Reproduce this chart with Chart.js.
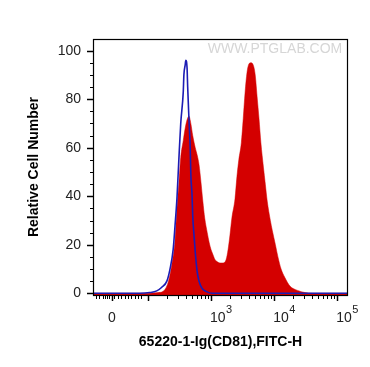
<!DOCTYPE html>
<html>
<head>
<meta charset="utf-8">
<script src="https://cdn.jsdelivr.net/npm/chart.js@4.4.0/dist/chart.umd.min.js"></script>
<style>
  html, body { margin: 0; padding: 0; background: #fff; }
  #wrap { width: 370px; height: 367px; }
</style>
</head>
<body>
<div id="wrap"><canvas id="c" width="370" height="367"></canvas></div>
<script>
// x values are display positions in decades (3 = 10^3, 4 = 10^4 ...)
const redX = [1.13, 2.00, 2.16, 2.24, 2.32, 2.38, 2.43, 2.46, 2.49, 2.52, 2.56, 2.59, 2.62, 2.65, 2.68, 2.71, 2.75, 2.78, 2.81, 2.84, 2.87, 2.90, 2.94, 2.97, 3.00, 3.03, 3.06, 3.10, 3.14, 3.19, 3.24, 3.27, 3.30, 3.33, 3.38, 3.41, 3.44, 3.48, 3.51, 3.54, 3.57, 3.60, 3.63, 3.67, 3.70, 3.73, 3.76, 3.79, 3.83, 3.86, 3.89, 3.94, 3.97, 4.02, 4.06, 4.11, 4.17, 4.25, 4.37, 4.49, 4.60, 5.17];
const redY = [0, 0, 0.3, 0.8, 4.5, 12, 22, 35, 45, 56, 63, 68, 71.5, 73, 70, 65, 60, 57, 53, 46, 38, 31, 25, 21, 18, 16, 14, 13, 12.5, 12.5, 14, 18, 24, 31, 39, 48, 55, 62, 72, 83, 91, 94.5, 95, 94, 90, 81, 72, 62, 52, 45, 38, 30, 26, 20, 15, 10, 6.5, 3, 1.2, 0.3, 0, 0];

const blueX = [1.13, 1.87, 2.03, 2.14, 2.22, 2.30, 2.35, 2.40, 2.43, 2.46, 2.49, 2.52, 2.56, 2.57, 2.59, 2.60, 2.62, 2.63, 2.65, 2.67, 2.68, 2.70, 2.71, 2.73, 2.75, 2.78, 2.81, 2.86, 2.92, 3.02, 5.17];
const blueY = [0, 0, 0.3, 1, 2.5, 5, 10, 18, 28, 39, 55, 70, 83, 90, 94, 96, 93, 85, 72, 60, 49, 40, 32, 24, 17, 9, 5, 2, 0.8, 0, 0];

const yTicks = [0, 20, 40, 60, 80, 100];
const yMinorTicks = [5, 10, 15, 25, 30, 35, 45, 50, 55, 65, 70, 75, 85, 90, 95];
const xMajorTicks = [1.43, 2, 3, 4, 5];
const xTickPos = [1.43, 3, 4, 5];
const xTickBase = ['0', '10', '10', '10'];
const xTickExp = ['', '3', '4', '5'];
const xLinearMinor = [1.175, 1.222, 1.286, 1.317, 1.349, 1.381, 1.46, 1.524, 1.571, 1.635, 1.683, 1.73, 1.794, 1.841, 1.889];
const xTitle = '65220-1-Ig(CD81),FITC-H';
const yTitle = 'Relative Cell Number';
const watermark = 'WWW.PTGLAB.COM';

const xLogMinor = [];
[2, 3, 4].forEach(d => { for (let k = 2; k <= 9; k++) xLogMinor.push(d + Math.log10(k)); });

const FONT = "'Liberation Sans', Arial, sans-serif";

const decor = {
  id: 'decor',
  afterDatasetsDraw(chart) {
    const ctx = chart.ctx;
    const a = chart.chartArea;
    const xs = chart.scales.x, ys = chart.scales.y;
    ctx.save();
    // watermark
    ctx.fillStyle = '#d6d6d6';
    ctx.font = '14px ' + FONT;
    ctx.textAlign = 'center';
    ctx.textBaseline = 'middle';
    ctx.fillText(watermark, 275, 49);
    // frame
    ctx.strokeStyle = '#000';
    ctx.lineWidth = 1.2;
    ctx.strokeRect(a.left + 0.5, a.top + 0.5, a.right - a.left - 1, a.bottom - a.top);
    // y ticks
    ctx.lineWidth = 1.5;
    yTicks.forEach(v => {
      const y = Math.round(ys.getPixelForValue(v)) + 0.5;
      ctx.beginPath(); ctx.moveTo(a.left - 6, y); ctx.lineTo(a.left, y); ctx.stroke();
    });
    ctx.lineWidth = 1;
    yMinorTicks.forEach(v => {
      const y = Math.round(ys.getPixelForValue(v)) + 0.5;
      ctx.beginPath(); ctx.moveTo(a.left - 3, y); ctx.lineTo(a.left, y); ctx.stroke();
    });
    // x ticks
    ctx.lineWidth = 1.5;
    xMajorTicks.forEach(v => {
      const x = Math.round(xs.getPixelForValue(v)) + 0.5;
      ctx.beginPath(); ctx.moveTo(x, a.bottom); ctx.lineTo(x, a.bottom + 6); ctx.stroke();
    });
    ctx.lineWidth = 1;
    xLinearMinor.concat(xLogMinor).forEach(v => {
      if (v < xs.min || v > xs.max) return;
      const x = Math.round(xs.getPixelForValue(v)) + 0.5;
      ctx.beginPath(); ctx.moveTo(x, a.bottom); ctx.lineTo(x, a.bottom + 4); ctx.stroke();
    });
    // x tick labels
    ctx.fillStyle = '#222';
    ctx.textBaseline = 'alphabetic';
    xTickPos.forEach((v, i) => {
      const x = xs.getPixelForValue(v);
      ctx.font = '14px ' + FONT;
      if (!xTickExp[i]) {
        ctx.textAlign = 'center';
        ctx.fillText(xTickBase[i], x, 322);
      } else {
        ctx.textAlign = 'left';
        const bx = x - 1;
        ctx.fillText(xTickBase[i], bx, 322);
        const w = ctx.measureText(xTickBase[i]).width;
        ctx.font = '11px ' + FONT;
        ctx.fillText(xTickExp[i], bx + w + 0.5, 313);
      }
    });
    ctx.restore();
  }
};

new Chart(document.getElementById('c'), {
  type: 'line',
  data: {
    datasets: [
      {
        label: 'isotype',
        data: blueX.map((x, i) => ({ x: x, y: blueY[i] })),
        borderColor: '#1c1cb4',
        borderWidth: 1.6,
        pointRadius: 0,
        fill: false,
        cubicInterpolationMode: 'monotone'
      },
      {
        label: 'CD81',
        data: redX.map((x, i) => ({ x: x, y: redY[i] })),
        borderColor: '#d40000',
        backgroundColor: '#d40000',
        borderWidth: 0.5,
        pointRadius: 0,
        fill: 'start',
        cubicInterpolationMode: 'monotone'
      }
    ]
  },
  options: {
    responsive: false,
    animation: false,
    devicePixelRatio: 1,
    layout: { padding: { left: 0, right: 22, top: 39, bottom: 0 } },
    plugins: { legend: { display: false }, tooltip: { enabled: false } },
    scales: {
      x: {
        type: 'linear',
        min: 1.13,
        max: 5.17,
        grid: { display: false, drawTicks: false },
        border: { display: false },
        ticks: { display: false },
        title: {
          display: true,
          text: xTitle,
          color: '#000',
          font: { family: FONT, size: 14, weight: 'bold' },
          padding: { top: 0, bottom: 16 }
        },
        afterFit(s) { s.height = 72; }
      },
      y: {
        type: 'linear',
        min: -0.7,
        max: 104.8,
        grid: { display: false, drawTicks: false },
        border: { display: false },
        afterBuildTicks(s) { s.ticks = yTicks.map(v => ({ value: v })); },
        ticks: {
          color: '#222',
          padding: 12,
          font: { family: FONT, size: 14 }
        },
        title: {
          display: true,
          text: yTitle,
          color: '#000',
          font: { family: FONT, size: 14, weight: 'bold' },
          padding: { top: 26, bottom: 0 }
        },
        afterFit(s) { s.width = 93; }
      }
    }
  },
  plugins: [decor]
});
</script>
</body>
</html>
